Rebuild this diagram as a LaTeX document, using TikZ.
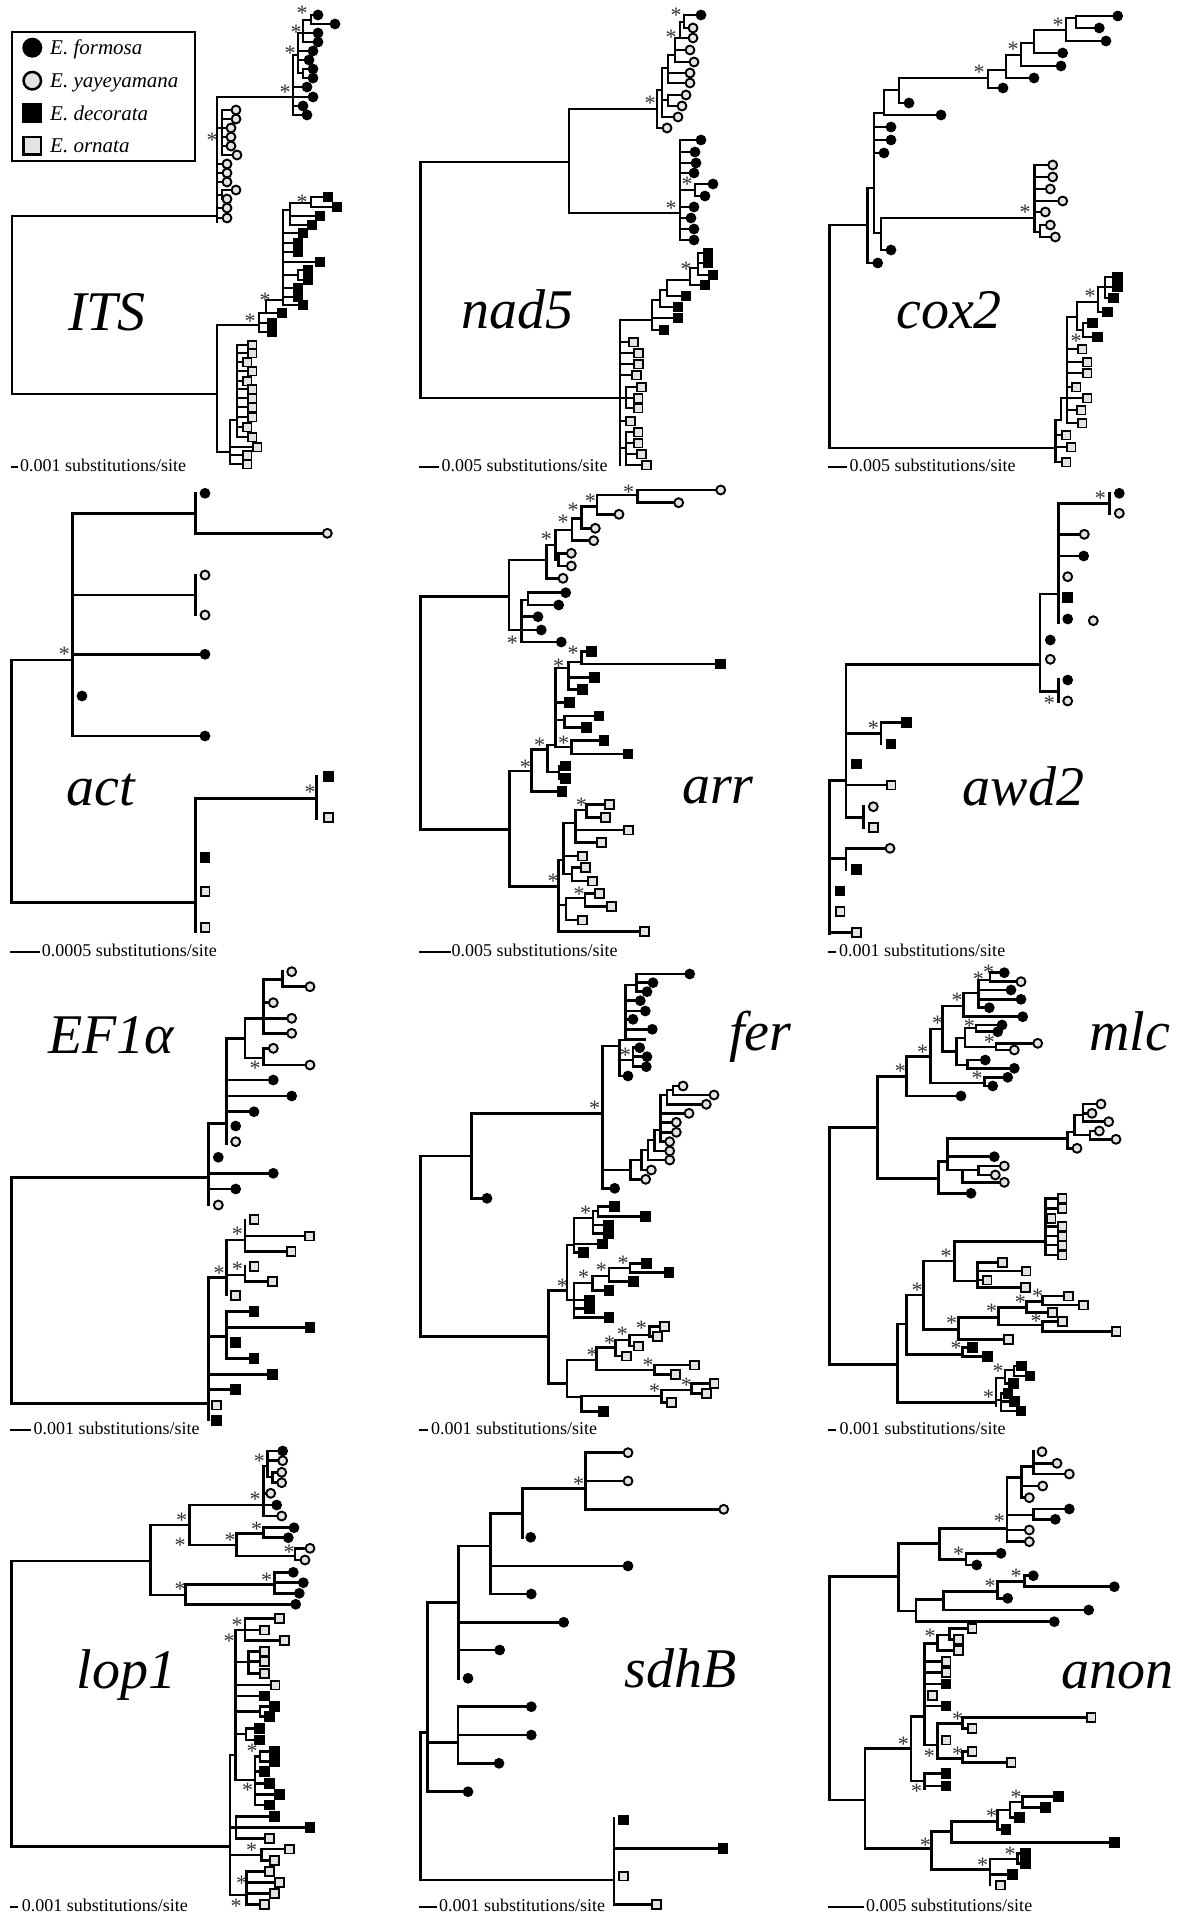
\documentclass[tikz,border=0pt]{standalone}
\usepackage{fontspec}
\setmainfont{Liberation Serif}
\newcounter{nn}
% branch pieces: vertical (x,y1,y2) and horizontal (x1,x2,y)
\newcommand\vbr[3]{\draw[br] (#1,#2) -- (#1,#3);}
\newcommand\hbr[3]{\draw[br] (#1,#3) -- (#2,#3);}
% terminal branch with its marker: style, parent x, tip x, y
\newcommand\tipm[4]{\draw[br] (#2,#4) -- (#3,#4);\stepcounter{nn}\node[#1] (t\arabic{nn}) at (#3,#4) {};}
% marker only
\newcommand\tmk[3]{\stepcounter{nn}\node[#1] (t\arabic{nn}) at (#2,#3) {};}
% support asterisk
\newcommand\astk[2]{\stepcounter{nn}\node[ast] (a\arabic{nn}) at (#1,#2) {*};}
% scale bar: x1, x2, y, text x, text
\newcommand\sbar[5]{\draw[br] (#1,{#3+2}) -- (#2,{#3+2});\stepcounter{nn}\node[scl] (s\arabic{nn}) at (#4,#3) {#5};}
\begin{document}
\begin{tikzpicture}[x=1pt,y=-1pt,
  br/.style={line width=2.6pt, line cap=rect},
  mkr/.style={inner sep=0pt, outer sep=0pt},
  sF/.style={mkr, circle, fill=black, minimum size=10.8pt},
  sY/.style={mkr, circle, draw=black, line width=1.9pt, fill=gray!22, minimum size=8.9pt},
  sD/.style={mkr, rectangle, fill=black, minimum size=10.8pt},
  sO/.style={mkr, rectangle, draw=black, line width=1.9pt, fill=gray!22, minimum size=8.9pt},
  ast/.style={inner sep=0pt, text=black!80, font=\fontsize{22}{22}\selectfont, yshift=-3pt},
  gene/.style={inner sep=0pt, anchor=base west, font=\fontsize{56}{60}\selectfont\itshape},
  scl/.style={inner sep=0pt, anchor=west, font=\fontsize{18}{20}\selectfont},
  leg/.style={inner sep=0pt, anchor=base west, font=\fontsize{21}{24}\selectfont\itshape},
]
\fill[white] (0,0) rectangle (1179,1916);
\useasboundingbox (0,0) rectangle (1179,1916);

% ================= ITS =================
\node[draw, line width=1.9pt, inner sep=0pt, minimum width=183.3pt, minimum height=129.3pt, anchor=north west] (legend) at (10.7,30.7) {};
\node[sF, minimum size=20pt] (lgF) at (32.3,47.7) {};
\node[sY, minimum size=17.5pt, line width=2.5pt] (lgY) at (32.3,80.7) {};
\node[sD, minimum size=20pt] (lgD) at (32.3,113.3) {};
\node[sO, minimum size=17.5pt, line width=2.5pt] (lgO) at (32.3,145.7) {};
\node[leg] (lgtF) at (50,55) {E. formosa};
\node[leg] (lgtY) at (50,88) {E. yayeyamana};
\node[leg] (lgtD) at (50,120.5) {E. decorata};
\node[leg] (lgtO) at (50,153) {E. ornata};

\vbr{12}{216}{394}
\hbr{12}{217}{216}
\hbr{12}{217}{394}
\vbr{217}{97}{222}
\hbr{217}{293}{97}
% E. yayeyamana
\hbr{217}{222}{128}
\vbr{222}{110}{155}
\tipm{sY}{222}{236}{110}
\tipm{sY}{222}{236}{119}
\tipm{sY}{222}{231}{128}
\tipm{sY}{222}{231}{137}
\tipm{sY}{222}{231}{146}
\tipm{sY}{222}{237}{155}
\tipm{sY}{217}{227}{164}
\tipm{sY}{217}{227}{173}
\tipm{sY}{217}{227}{182}
\hbr{217}{222}{195}
\vbr{222}{190}{199}
\tipm{sY}{222}{236}{190}
\tipm{sY}{222}{227}{199}
\tipm{sY}{217}{227}{208}
\tipm{sY}{217}{227}{218}
\astk{212}{137}
% E. formosa
\vbr{293}{55}{115}
\hbr{293}{298}{55}
\vbr{298}{33}{73}
\hbr{298}{303}{33}
\vbr{303}{20}{42}
\hbr{303}{311}{20}
\vbr{311}{15}{24}
\tipm{sF}{311}{318}{15}
\tipm{sF}{311}{335}{24}
\tipm{sF}{303}{318}{33}
\tipm{sF}{303}{318}{42}
\tipm{sF}{298}{313}{51}
\tipm{sF}{298}{309}{60}
\hbr{298}{303}{73}
\vbr{303}{69}{78}
\tipm{sF}{303}{313}{69}
\tipm{sF}{303}{313}{78}
\tipm{sF}{293}{307}{87}
\tipm{sF}{293}{313}{97}
\tipm{sF}{293}{303}{106}
\tipm{sF}{293}{307}{115}
\astk{302}{10}
\astk{296}{29}
\astk{290}{50}
\astk{285}{89}
% lower clade
\vbr{217}{325}{452}
\hbr{217}{259}{325}
\hbr{217}{230}{452}
\vbr{230}{420}{464}
\hbr{230}{237}{420}
\vbr{237}{345}{437}
\tipm{sO}{237}{252}{345}
\tipm{sO}{237}{252}{353}
\tipm{sO}{237}{247}{362}
\tipm{sO}{237}{252}{371}
\tipm{sO}{237}{247}{381}
\tipm{sO}{237}{252}{389}
\tipm{sO}{237}{252}{398}
\tipm{sO}{237}{252}{407}
\tipm{sO}{237}{252}{417}
\tipm{sO}{237}{247}{427}
\tipm{sO}{237}{252}{437}
\tipm{sO}{230}{257}{447}
\tipm{sO}{230}{247}{455}
\tipm{sO}{230}{247}{464}
% E. decorata
\vbr{259}{313}{332}
\tipm{sD}{259}{272}{323}
\tipm{sD}{259}{272}{332}
\hbr{259}{266}{313}
\vbr{266}{300}{313}
\tipm{sD}{266}{282}{313}
\hbr{266}{283}{300}
\vbr{283}{210}{305}
\tipm{sD}{283}{303}{305}
\tipm{sD}{283}{298}{297}
\tipm{sD}{283}{298}{288}
\hbr{283}{298}{275}
\vbr{298}{270}{280}
\tipm{sD}{298}{308}{270}
\tipm{sD}{298}{308}{280}
\tipm{sD}{283}{320}{262}
\tipm{sD}{283}{298}{252}
\tipm{sD}{283}{298}{243}
\tipm{sD}{283}{303}{233}
\hbr{283}{290}{210}
\vbr{290}{203}{225}
\hbr{290}{311}{203}
\vbr{311}{197}{207}
\tipm{sD}{311}{328}{197}
\tipm{sD}{311}{337}{207}
\tipm{sD}{290}{320}{216}
\tipm{sD}{290}{312}{225}
\astk{302}{199}
\astk{250}{318}
\astk{265}{297}
\node[gene] (gITS) at (68,330) {ITS};
\sbar{12}{17}{465}{20}{0.001 substitutions/site}

% ================= nad5 =================
\vbr{420.7}{162}{398}
\hbr{420.7}{569}{162}
\hbr{420.7}{620}{398}
\vbr{569}{109}{213}
\hbr{569}{657}{109}
\hbr{569}{680}{213}
\astk{650}{100}
\astk{671}{205}
% E. yayeyamana
\vbr{657}{90}{128}
\tipm{sY}{657}{667}{128}
\hbr{657}{662}{90}
\vbr{662}{68}{117}
\tipm{sY}{662}{678}{117}
\hbr{662}{668}{100}
\vbr{668}{95}{106}
\tipm{sY}{668}{682}{106}
\tipm{sY}{668}{686}{95}
\hbr{662}{668}{68}
\vbr{668}{55}{83}
\tipm{sY}{668}{690}{83}
\tipm{sY}{668}{690}{73}
\hbr{668}{675}{55}
\vbr{675}{38}{62}
\tipm{sY}{675}{694}{62}
\tipm{sY}{675}{690}{50}
\hbr{675}{680}{38}
\vbr{680}{22}{38}
\tipm{sY}{680}{693}{38}
\hbr{680}{684}{22}
\vbr{684}{15}{28}
\tipm{sF}{684}{701}{15}
\tipm{sY}{684}{693}{28}
\astk{676}{12}
\astk{671}{34}
% E. formosa
\vbr{680}{140}{240}
\tipm{sF}{680}{701}{140}
\tipm{sF}{680}{695}{152}
\tipm{sF}{680}{696}{163}
\tipm{sF}{680}{694}{173}
\hbr{680}{695}{190}
\vbr{695}{184}{196}
\tipm{sF}{695}{713}{184}
\tipm{sF}{695}{705}{196}
\astk{687}{181}
\tipm{sF}{680}{694}{207}
\tipm{sF}{680}{691}{218}
\tipm{sF}{680}{694}{229}
\tipm{sF}{680}{694}{240}
% lower clade
\vbr{620}{320}{465}
\hbr{620}{652}{320}
\vbr{652}{300}{330}
\tipm{sD}{652}{664}{330}
\tipm{sD}{652}{678}{318}
\hbr{652}{660}{300}
\vbr{660}{290}{307}
\tipm{sD}{660}{678}{307}
\hbr{660}{667}{290}
\vbr{667}{280}{296}
\tipm{sD}{667}{686}{296}
\hbr{667}{690}{280}
\vbr{690}{268}{285}
\tipm{sD}{690}{705}{285}
\hbr{690}{698}{268}
\vbr{698}{253}{275}
\tipm{sD}{698}{708}{253}
\tipm{sD}{698}{708}{263}
\tipm{sD}{698}{713}{275}
\astk{686}{266}
\tipm{sO}{620}{633.7}{342}
\tipm{sO}{620}{638.7}{353}
\tipm{sO}{620}{638.7}{364}
\tipm{sO}{620}{636.3}{375}
\hbr{620}{626}{398}
\vbr{626}{387}{408}
\tipm{sO}{626}{641.3}{387}
\tipm{sO}{626}{638}{398}
\tipm{sO}{626}{638}{408}
\tipm{sO}{620}{630.3}{421}
\hbr{620}{626}{448}
\vbr{626}{432}{465}
\tipm{sO}{626}{638}{432}
\tipm{sO}{626}{638}{443}
\tipm{sO}{626}{641.3}{454}
\tipm{sO}{626}{646.3}{465}
\node[gene] (gnad) at (461,328) {nad5};
\sbar{420.7}{438}{465}{441.3}{0.005 substitutions/site}

% ================= cox2 =================
\vbr{829.3}{225}{448}
\hbr{829.3}{867.7}{225}
\hbr{829.3}{1055.3}{448}
\vbr{867.7}{188}{263}
\tipm{sF}{867.7}{877.7}{263}
\hbr{867.7}{874}{188}
\vbr{874}{113}{233}
\hbr{874}{884}{113}
\tipm{sF}{874}{891}{127}
\tipm{sF}{874}{891}{140}
\tipm{sF}{874}{884}{153}
\hbr{874}{881}{233}
\vbr{881}{218}{250}
\tipm{sF}{881}{891}{250}
\hbr{881}{1034.7}{218}
\vbr{884}{90}{115}
\tipm{sF}{884}{941}{115}
\hbr{884}{899}{90}
\vbr{899}{78}{103}
\tipm{sF}{899}{909}{103}
\hbr{899}{988}{78}
\vbr{988}{70}{88}
\tipm{sF}{988}{1003}{88}
\hbr{988}{1006}{70}
\vbr{1006}{55}{78}
\tipm{sF}{1006}{1034}{78}
\hbr{1006}{1021}{55}
\vbr{1021}{43}{66}
\tipm{sF}{1021}{1061}{66}
\hbr{1021}{1034}{43}
\vbr{1034}{30}{53}
\tipm{sF}{1034}{1062.7}{53}
\hbr{1034}{1066}{30}
\vbr{1066}{18}{41}
\tipm{sF}{1066}{1106}{41}
\hbr{1066}{1076}{18}
\vbr{1076}{16}{28}
\tipm{sF}{1076}{1117.7}{16}
\tipm{sF}{1076}{1099.3}{28}
\astk{979}{69}
\astk{1013}{46}
\astk{1058}{22}
% E. yayeyamana
\vbr{1034.7}{165}{232}
\tipm{sY}{1034.7}{1052.7}{165}
\tipm{sY}{1034.7}{1052.7}{177}
\tipm{sY}{1034.7}{1050.3}{189}
\tipm{sY}{1034.7}{1062.7}{201}
\tipm{sY}{1034.7}{1045.3}{212}
\hbr{1034.7}{1040}{232}
\vbr{1040}{225}{237}
\tipm{sY}{1040}{1050.3}{225}
\tipm{sY}{1040}{1055.3}{237}
\astk{1025}{209}
% lower clade
\vbr{1055.3}{420}{462}
\tipm{sO}{1055.3}{1066}{435}
\tipm{sO}{1055.3}{1071}{447}
\tipm{sO}{1055.3}{1066}{462}
\hbr{1055.3}{1061}{420}
\vbr{1061}{398}{420}
\hbr{1061}{1067}{398}
\vbr{1067}{317}{423}
\tipm{sO}{1067}{1082}{349}
\tipm{sO}{1067}{1087}{362}
\tipm{sO}{1067}{1087}{373}
\tipm{sO}{1067}{1076}{387}
\tipm{sO}{1067}{1087}{398}
\tipm{sO}{1067}{1081}{410}
\tipm{sO}{1067}{1082}{423}
\hbr{1067}{1077}{317}
\vbr{1077}{302}{330}
\hbr{1077}{1083}{330}
\vbr{1083}{323}{337}
\tipm{sD}{1083}{1092.7}{323}
\tipm{sD}{1083}{1097.7}{337}
\hbr{1077}{1098}{302}
\vbr{1098}{287}{312}
\tipm{sD}{1098}{1107.7}{312}
\hbr{1098}{1105}{287}
\vbr{1105}{277}{298}
\tipm{sD}{1105}{1117.7}{277}
\tipm{sD}{1105}{1117.7}{287}
\tipm{sD}{1105}{1113.7}{298}
\astk{1090}{293}
\astk{1076}{338}
\node[gene] (gcox) at (896,328) {cox2};
\sbar{829.3}{846}{465}{849.3}{0.005 substitutions/site}

% ================= act =================
\vbr{11.7}{660}{902.3}
\hbr{11.7}{72.7}{660}
\hbr{11.7}{195.7}{902.3}
\vbr{72.7}{513.3}{736}
\astk{64.3}{651.7}
\hbr{72.7}{195.7}{513.3}
\vbr{195.7}{493.3}{533.3}
\tmk{sF}{205}{493.3}
\tipm{sY}{195.7}{327.3}{533.3}
\hbr{72.7}{195.7}{595}
\vbr{195.7}{575}{615}
\tmk{sY}{205}{575}
\tmk{sY}{205}{615}
\tipm{sF}{72.7}{205}{654.3}
\tmk{sF}{82}{696}
\tipm{sF}{72.7}{205}{736}
\vbr{195.7}{798.3}{931.7}
\hbr{195.7}{316.7}{798.3}
\vbr{316.7}{776.7}{818.3}
\tmk{sD}{328.3}{776.7}
\tmk{sO}{328.3}{817.7}
\astk{310}{789}
\tmk{sD}{205}{857.7}
\tmk{sO}{205}{891.7}
\tmk{sO}{205}{927.7}
\node[gene] (gact) at (66.7,805) {act};
\sbar{11.7}{38.3}{950}{41.7}{0.0005 substitutions/site}

% ================= arr =================
\vbr{420.7}{596.7}{829.3}
\hbr{420.7}{509}{596.7}
\hbr{420.7}{509.7}{829.3}
\vbr{509}{560}{630}
% E. yayeyamana
\hbr{509}{546.3}{560}
\vbr{546.3}{545}{579}
\tipm{sY}{546.3}{563}{578.3}
\hbr{546.3}{555.3}{545}
\vbr{555.3}{530}{560}
\hbr{555.3}{558.7}{560}
\vbr{558.7}{553}{566}
\tipm{sY}{558.7}{571.3}{553.3}
\tipm{sY}{558.7}{571.3}{566}
\hbr{555.3}{572}{530}
\vbr{572}{518.3}{540.7}
\tipm{sY}{572}{593.7}{540.7}
\hbr{572}{581.3}{518.3}
\vbr{581.3}{506.7}{528.3}
\tipm{sY}{581.3}{595.3}{528.3}
\hbr{581.3}{597}{506.7}
\vbr{597}{495}{514.3}
\tipm{sY}{597}{619}{514.3}
\hbr{597}{637.3}{495}
\vbr{637.3}{490}{502.7}
\tipm{sY}{637.3}{720.7}{490}
\tipm{sY}{637.3}{678.7}{502.7}
\astk{546.3}{536}
\astk{563}{519}
\astk{573}{507}
\astk{590.3}{498}
\astk{628.7}{489}
% E. formosa
\hbr{509}{521.3}{630}
\vbr{521.3}{600}{642}
\hbr{521.3}{528}{600}
\vbr{528}{592.7}{605}
\tipm{sF}{528}{565.7}{592.7}
\tipm{sF}{528}{558.7}{605}
\tipm{sF}{521.3}{538}{616.7}
\tipm{sF}{521.3}{541.3}{630}
\tipm{sF}{521.3}{561.3}{642}
\astk{512.3}{640}
% E. decorata
\vbr{509.7}{771}{886.7}
\hbr{509.7}{531.3}{771}
\astk{525.3}{764.3}
\vbr{531.3}{749.3}{791.7}
\tipm{sD}{531.3}{562}{791.7}
\hbr{531.3}{547.3}{749.3}
\astk{539.7}{742.7}
\vbr{547.3}{745}{772}
\hbr{547.3}{559}{772}
\vbr{559}{766}{778.3}
\tipm{sD}{559}{565.7}{766}
\tipm{sD}{559}{565.7}{778.3}
\hbr{547.3}{555.7}{745}
\vbr{555.7}{668}{747}
\hbr{555.7}{568.7}{668}
\astk{558.7}{663}
\vbr{568.7}{662}{689.3}
\hbr{568.7}{581.3}{662}
\astk{573}{650}
\vbr{581.3}{651.7}{664}
\tipm{sD}{581.3}{591.3}{651.7}
\tipm{sD}{581.3}{720.7}{664}
\tipm{sD}{568.7}{594.7}{677.3}
\tipm{sD}{568.7}{582.3}{689.3}
\tipm{sD}{555.7}{569.7}{702.7}
\hbr{555.7}{564.3}{720}
\vbr{564.3}{716}{727.7}
\tipm{sD}{564.3}{599}{716}
\tipm{sD}{564.3}{586.3}{727.7}
\hbr{555.7}{571.3}{747}
\astk{563.7}{740.5}
\vbr{571.3}{740.7}{754}
\tipm{sD}{571.3}{604}{740.7}
\tipm{sD}{571.3}{628}{754}
% E. ornata
\hbr{509.7}{558.7}{886.7}
\astk{553}{878.3}
\vbr{558.7}{860}{931.7}
\hbr{558.7}{563.7}{860}
\vbr{563.7}{823}{874}
\hbr{563.7}{575.7}{823}
\vbr{575.7}{810}{842.3}
\hbr{575.7}{586.3}{810}
\vbr{586.3}{804.3}{817.7}
\tipm{sO}{586.3}{609.7}{804.3}
\tipm{sO}{586.3}{605.7}{817.7}
\tipm{sO}{575.7}{628.7}{830}
\tipm{sO}{575.7}{601.3}{842.3}
\astk{581.3}{802}
\tipm{sO}{563.7}{582.3}{856}
\hbr{563.7}{572}{874}
\vbr{572}{867.7}{881}
\tipm{sO}{572}{585.3}{867.7}
\tipm{sO}{572}{592.3}{881}
\hbr{558.7}{566}{905}
\vbr{566}{898}{920}
\hbr{566}{585}{898}
\vbr{585}{893.3}{906.7}
\tipm{sO}{585}{599.7}{893.3}
\tipm{sO}{585}{611.3}{906.7}
\astk{579}{891.5}
\tipm{sO}{566}{582.3}{920}
\tipm{sO}{558.7}{644.7}{931.7}
\node[gene] (garr) at (682,803) {arr};
\sbar{420.7}{449.7}{950}{451.3}{0.005 substitutions/site}

% ================= awd2 =================
\vbr{829.3}{780.7}{933.3}
\hbr{829.3}{846}{780.7}
\vbr{846}{664.3}{817.7}
\hbr{846}{1040}{664.3}
\vbr{1040}{594}{691.7}
\hbr{1040}{1058.7}{594}
\vbr{1058.7}{503.3}{623}
\hbr{1058.7}{1109.3}{503.3}
\vbr{1109.3}{493.3}{513.3}
\tmk{sF}{1119.3}{493.3}
\tmk{sY}{1119.3}{513.3}
\astk{1100.3}{495.7}
\tipm{sY}{1058.7}{1084.3}{534.3}
\tipm{sF}{1058.7}{1083.7}{556}
\tmk{sY}{1067.7}{576.7}
\tmk{sD}{1067.7}{597.7}
\tmk{sF}{1067.7}{619}
\tmk{sY}{1093.3}{620.7}
\tmk{sF}{1050.3}{640}
\tmk{sY}{1050.3}{659.3}
\hbr{1040}{1058.7}{691.7}
\vbr{1058.7}{679.3}{701.7}
\tmk{sF}{1067.7}{680}
\tmk{sY}{1067.7}{701}
\astk{1049.3}{700}
\hbr{846}{881}{733.3}
\vbr{881}{723.3}{744}
\tipm{sD}{881}{906.7}{722.7}
\tmk{sD}{891}{744}
\astk{873.3}{725}
\tmk{sD}{856.7}{764}
\tipm{sO}{846}{891}{785}
\hbr{846}{863.3}{817.7}
\vbr{863.3}{806.7}{827.7}
\tmk{sY}{873.3}{806.7}
\tmk{sO}{873.3}{827.7}
\hbr{829.3}{846}{858.3}
\vbr{846}{848.3}{869.3}
\tipm{sY}{846}{890}{848.3}
\tmk{sD}{856.7}{869.3}
\tmk{sD}{840}{891}
\tmk{sO}{840}{911.7}
\tipm{sO}{829.3}{856.7}{932.7}
\node[gene] (gawd) at (962.7,805) {awd2};
\sbar{829.3}{834.3}{950}{839}{0.001 substitutions/site}

% ================= EF1alpha =================
\vbr{11.7}{1177.7}{1403.3}
\hbr{11.7}{208.3}{1177.7}
\hbr{11.7}{208.3}{1403.3}
\vbr{208.3}{1123.3}{1205}
\hbr{208.3}{226.7}{1123.3}
\vbr{226.7}{1038.3}{1143.3}
\hbr{226.7}{245}{1038.3}
\vbr{245}{1018.3}{1058}
\hbr{245}{263.3}{1018.3}
\vbr{263.3}{979.3}{1033.3}
\hbr{263.3}{282.7}{979.3}
\vbr{282.7}{971.7}{986.7}
\tmk{sY}{291.7}{971.7}
\tipm{sY}{282.7}{310}{986.7}
\tipm{sY}{263.3}{273.3}{1002.7}
\tipm{sY}{263.3}{291.7}{1018.3}
\tipm{sY}{263.3}{291.7}{1033.3}
\hbr{245}{263.3}{1058}
\vbr{263.3}{1048.3}{1065}
\tipm{sY}{263.3}{273.3}{1048.3}
\tipm{sY}{263.3}{310}{1065}
\astk{255}{1065}
\tipm{sF}{226.7}{273.3}{1080}
\tipm{sF}{226.7}{291.7}{1096}
\tipm{sF}{226.7}{254}{1111.7}
\tmk{sF}{235.7}{1126}
\tmk{sY}{235.7}{1141.7}
\tmk{sF}{218.3}{1157.3}
\tipm{sF}{208.3}{273.3}{1173.3}
\tipm{sF}{208.3}{235.7}{1189}
\tmk{sY}{218.3}{1205}
\vbr{208.3}{1277.7}{1420}
\hbr{208.3}{226.7}{1277.7}
\vbr{226.7}{1240}{1295}
\astk{219}{1270}
\hbr{226.7}{245}{1240}
\vbr{245}{1220}{1251.7}
\tmk{sO}{254}{1219.3}
\tipm{sO}{245}{309.3}{1236}
\tipm{sO}{245}{291}{1251.7}
\astk{237.3}{1231.7}
\hbr{226.7}{245}{1275}
\vbr{245}{1266.7}{1281.7}
\tmk{sO}{254}{1266.7}
\tipm{sO}{245}{272.7}{1281.7}
\astk{237.3}{1266.7}
\tmk{sO}{235.7}{1295.7}
\hbr{208.3}{226.7}{1336.7}
\vbr{226.7}{1311.7}{1358.3}
\tipm{sD}{226.7}{254}{1311.7}
\tipm{sD}{226.7}{310}{1327.7}
\tmk{sD}{235.7}{1342.7}
\tipm{sD}{226.7}{254}{1358.3}
\tipm{sD}{208.3}{272.7}{1374.3}
\tipm{sD}{208.3}{235.7}{1389.3}
\tmk{sO}{216.7}{1405}
\tmk{sD}{216.7}{1420.7}
\node[gene] (gEF) at (48.3,1053) {EF1α};
\sbar{11.7}{30}{1428}{33.3}{0.001 substitutions/site}

% ================= fer =================
\vbr{420.7}{1156}{1336.7}
\hbr{420.7}{471.3}{1156}
\hbr{420.7}{548.7}{1336.7}
\vbr{471.3}{1113.3}{1198.3}
\tipm{sF}{471.3}{487}{1198.3}
\hbr{471.3}{602.3}{1113.3}
\astk{594.7}{1105}
\vbr{602.3}{1046}{1188.3}
\tipm{sF}{602.3}{614.7}{1188.3}
\hbr{602.3}{619.7}{1046}
% E. formosa
\vbr{619.7}{1040}{1076}
\tipm{sF}{619.7}{628}{1076}
\hbr{619.7}{625.3}{1040}
\hbr{619.7}{633}{1060}
\vbr{633}{1047.7}{1066.7}
\tipm{sF}{633}{639.7}{1047.7}
\tipm{sF}{633}{647}{1056.7}
\tipm{sF}{633}{646.3}{1066.7}
\astk{625.3}{1052}
\vbr{625.3}{985}{1039.3}
\hbr{625.3}{636.3}{985}
\vbr{636.3}{974}{991.7}
\tipm{sF}{636.3}{689.7}{974}
\tipm{sF}{636.3}{653}{982.7}
\tipm{sF}{636.3}{647}{991.7}
\tipm{sF}{625.3}{640.3}{1000.7}
\tipm{sF}{625.3}{645.3}{1011}
\tipm{sF}{625.3}{633}{1019.3}
\tipm{sF}{625.3}{652.3}{1029.3}
\hbr{625.3}{645}{1039.3}
% E. yayeyamana
\hbr{602.3}{630.3}{1170}
\vbr{630.3}{1160}{1180}
\tipm{sY}{630.3}{645.7}{1179.3}
\hbr{630.3}{641.3}{1160}
\vbr{641.3}{1150}{1170}
\tipm{sY}{641.3}{651.3}{1170}
\hbr{641.3}{648}{1150}
\vbr{648}{1140}{1160}
\tipm{sY}{648}{669.7}{1160}
\hbr{648}{654.7}{1140}
\vbr{654.7}{1130}{1151}
\tipm{sY}{654.7}{669.7}{1151}
\hbr{654.7}{660.7}{1130}
\vbr{660.7}{1095}{1141.7}
\tipm{sY}{660.7}{669.7}{1141.7}
\tipm{sY}{660.7}{676.3}{1132.3}
\tipm{sY}{660.7}{676.3}{1122.3}
\tipm{sY}{660.7}{689}{1113.3}
\hbr{660.7}{667}{1095}
\vbr{667}{1090}{1104.3}
\tipm{sY}{667}{706.3}{1104.3}
\hbr{667}{673}{1090}
\vbr{673}{1086}{1095}
\tipm{sY}{673}{683}{1086}
\tipm{sY}{673}{714}{1095}
% E. decorata
\vbr{548.7}{1290.7}{1383.3}
\hbr{548.7}{567}{1290.7}
\astk{562.3}{1283}
\vbr{567}{1245}{1300}
\hbr{567}{574}{1245}
\vbr{574}{1218}{1252.7}
\hbr{574}{593}{1218}
\astk{585.7}{1210.5}
\vbr{593}{1211}{1233.3}
\hbr{593}{598}{1211}
\vbr{598}{1206.7}{1216.7}
\tipm{sD}{598}{614.7}{1206.7}
\tipm{sD}{598}{645.3}{1216.7}
\tipm{sD}{593}{608.7}{1225}
\tipm{sD}{593}{608.7}{1233.3}
\tipm{sD}{574}{602.3}{1244}
\tipm{sD}{574}{583.7}{1252.7}
\hbr{567}{574}{1300}
\vbr{574}{1283}{1317.7}
\hbr{574}{592.3}{1283}
\astk{583.7}{1274}
\vbr{592.3}{1276}{1290.7}
\hbr{592.3}{609}{1276}
\astk{601.3}{1267}
\vbr{609}{1268}{1281.7}
\hbr{609}{630}{1268}
\astk{623}{1260.5}
\vbr{630}{1263.3}{1272.7}
\tipm{sD}{630}{646.3}{1263.3}
\tipm{sD}{630}{669}{1272.7}
\tipm{sD}{609}{633.7}{1281.7}
\tipm{sD}{592.3}{609}{1290.7}
\tipm{sD}{574}{589.7}{1300}
\tipm{sD}{574}{589.7}{1308.3}
\tipm{sD}{574}{609}{1317.7}
% E. ornata
\hbr{548.7}{567}{1383.3}
\vbr{567}{1360}{1397}
\hbr{567}{596.3}{1360}
\astk{592}{1352}
\vbr{596.3}{1347.7}{1370}
\hbr{596.3}{615.7}{1347.7}
\astk{609.7}{1340}
\vbr{615.7}{1340}{1356}
\hbr{615.7}{629.7}{1340}
\astk{622.3}{1331}
\vbr{629.7}{1335}{1346}
\hbr{629.7}{649.7}{1335}
\astk{641.3}{1325.5}
\vbr{649.7}{1326.7}{1336.7}
\tipm{sO}{649.7}{664.7}{1326.7}
\tipm{sO}{649.7}{657.3}{1336.7}
\tipm{sO}{629.7}{638.7}{1346}
\tipm{sO}{615.7}{626.3}{1356}
\hbr{596.3}{654.7}{1370}
\astk{648}{1362}
\vbr{654.7}{1365}{1374.3}
\tipm{sO}{654.7}{694.7}{1365}
\tipm{sO}{654.7}{675.7}{1374.3}
\hbr{567}{581.3}{1397}
\vbr{581.3}{1396}{1411.7}
\hbr{581.3}{661.3}{1396}
\astk{654.7}{1388.5}
\vbr{661.3}{1390}{1402.7}
\hbr{661.3}{691.3}{1390}
\astk{686.3}{1382}
\vbr{691.3}{1383.3}{1393.3}
\tipm{sO}{691.3}{714}{1383.3}
\tipm{sO}{691.3}{706.3}{1393.3}
\tipm{sO}{661.3}{671.3}{1402.7}
\tipm{sD}{581.3}{603.7}{1411.7}
\node[gene] (gfer) at (729,1050) {fer};
\sbar{420.7}{426.3}{1428}{431}{0.001 substitutions/site}

% ================= mlc =================
\vbr{829.3}{1127.3}{1364.3}
\hbr{829.3}{877.7}{1127.3}
\hbr{829.3}{897.7}{1364.3}
\vbr{877.7}{1076.7}{1178.3}
\hbr{877.7}{906.7}{1076.7}
\astk{900.3}{1068.3}
\vbr{906.7}{1056.7}{1096}
\tipm{sF}{906.7}{961}{1096}
\hbr{906.7}{930.3}{1056.7}
\astk{922.7}{1049}
\vbr{930.3}{1029}{1083}
\hbr{930.3}{942.7}{1029}
\astk{937.7}{1020.7}
\vbr{942.7}{1006}{1051.7}
\hbr{942.7}{963.7}{1006}
\astk{957}{997.3}
\vbr{963.7}{993}{1016.7}
\hbr{963.7}{978.3}{993}
\astk{978.3}{976.7}
\vbr{978.3}{980}{1007.7}
\hbr{978.3}{990}{980}
\astk{988.7}{969}
\vbr{990}{972.7}{981.7}
\tipm{sF}{990}{1004.3}{972.7}
\tipm{sY}{990}{1021}{981.7}
\tipm{sF}{978.3}{1011}{990}
\tipm{sF}{978.3}{1021}{999.3}
\tipm{sF}{978.3}{989.3}{1007.7}
\tipm{sF}{963.7}{1022.7}{1016.7}
\hbr{942.7}{956.7}{1051.7}
\vbr{956.7}{1038}{1065}
\hbr{956.7}{965}{1038}
\astk{969.3}{1023}
\vbr{965}{1028}{1047}
\hbr{965}{976}{1028}
\vbr{976}{1025}{1031.7}
\tipm{sF}{976}{1002}{1025}
\tipm{sF}{976}{997.7}{1031.7}
\hbr{965}{996}{1047}
\astk{989.3}{1039}
\vbr{996}{1043.3}{1050}
\tipm{sY}{996}{1037.7}{1043.3}
\tipm{sY}{996}{1014.3}{1050}
\hbr{956.7}{967.7}{1065}
\vbr{967.7}{1060}{1068.3}
\tipm{sF}{967.7}{985.3}{1060}
\tipm{sF}{967.7}{1014.3}{1068.3}
\hbr{930.3}{984.3}{1083}
\astk{977}{1075.5}
\vbr{984.3}{1077.3}{1086}
\tipm{sF}{984.3}{1007.7}{1077.3}
\tipm{sF}{984.3}{992.7}{1086}
\hbr{877.7}{938.7}{1178.3}
\vbr{938.7}{1161.7}{1192.7}
\tipm{sF}{938.7}{971}{1193.3}
\hbr{938.7}{947.7}{1161.7}
\vbr{947.7}{1138.3}{1170}
\hbr{947.7}{1067.7}{1138.3}
\tipm{sF}{947.7}{994.3}{1156.7}
\hbr{947.7}{962.7}{1170}
\vbr{962.7}{1170}{1182.3}
\hbr{962.7}{978.3}{1170}
\vbr{978.3}{1166}{1175}
\tipm{sY}{978.3}{1004.3}{1166}
\tipm{sY}{978.3}{995.3}{1175}
\tipm{sY}{962.7}{1004.3}{1182.3}
\vbr{1067.7}{1132}{1148.3}
\tipm{sY}{1067.7}{1077}{1148.3}
\hbr{1067.7}{1074.3}{1132}
\vbr{1074.3}{1115}{1135}
\hbr{1074.3}{1083}{1115}
\vbr{1083}{1104}{1121.7}
\tipm{sY}{1083}{1101}{1104}
\tipm{sY}{1083}{1092}{1113.3}
\tipm{sY}{1083}{1108.7}{1121.7}
\hbr{1074.3}{1090}{1135}
\vbr{1090}{1131}{1139.3}
\tipm{sY}{1090}{1099.3}{1131}
\tipm{sY}{1090}{1116}{1139.3}
% lower mlc
\vbr{897.7}{1324}{1402.7}
\hbr{897.7}{906.7}{1324}
\vbr{906.7}{1295}{1354.3}
\astk{917}{1287}
\hbr{906.7}{923.7}{1295}
\astk{946}{1253}
\vbr{923.7}{1261}{1329.3}
\hbr{923.7}{954.3}{1261}
\vbr{954.3}{1241.7}{1281}
\hbr{954.3}{1045.3}{1241.7}
\vbr{1045.3}{1198.3}{1255}
\tipm{sO}{1045.3}{1062}{1198.3}
\tipm{sO}{1045.3}{1062}{1208.3}
\tipm{sO}{1045.3}{1051}{1218.3}
\tipm{sO}{1045.3}{1062}{1226.7}
\tipm{sO}{1045.3}{1062}{1236}
\tipm{sO}{1045.3}{1062}{1245}
\tipm{sO}{1045.3}{1062}{1255}
\hbr{954.3}{977.7}{1281}
\vbr{977.7}{1262.7}{1287.7}
\tipm{sO}{977.7}{1002.7}{1262.7}
\tipm{sO}{977.7}{1026}{1271}
\tipm{sO}{977.7}{987}{1280}
\tipm{sO}{977.7}{1025.3}{1287.7}
\hbr{923.7}{958.7}{1329.3}
\astk{951.7}{1320}
\vbr{958.7}{1317.7}{1340}
\hbr{958.7}{998.3}{1317.7}
\astk{991.7}{1308.3}
\vbr{998.3}{1307.7}{1325}
\hbr{998.3}{1026.7}{1307.7}
\astk{1020.3}{1299}
\vbr{1026.7}{1301.7}{1312.7}
\hbr{1026.7}{1042.7}{1301.7}
\astk{1037.7}{1293.5}
\vbr{1042.7}{1296}{1305}
\tipm{sO}{1042.7}{1068.7}{1296}
\tipm{sO}{1042.7}{1083.7}{1305}
\tipm{sO}{1026.7}{1052.7}{1312.7}
\hbr{998.3}{1042.7}{1325}
\astk{1036}{1318}
\vbr{1042.7}{1321.7}{1331.7}
\tipm{sO}{1042.7}{1062.7}{1321.7}
\tipm{sO}{1042.7}{1116}{1331.7}
\tipm{sO}{958.7}{1008.3}{1339.3}
\hbr{906.7}{962.7}{1354.3}
\astk{956}{1345.5}
\vbr{962.7}{1347.3}{1356.7}
\tipm{sD}{962.7}{972.7}{1347.3}
\tipm{sD}{962.7}{987.7}{1356.7}
\hbr{897.7}{996}{1402.7}
\vbr{996}{1378}{1406}
\hbr{996}{1005}{1378}
\astk{998}{1368}
\vbr{1005}{1370}{1383.3}
\hbr{1005}{1014}{1370}
\vbr{1014}{1366}{1376}
\tipm{sD}{1014}{1021.7}{1366}
\tipm{sD}{1014}{1030}{1376}
\tipm{sD}{1005}{1013.3}{1383.3}
\hbr{996}{1001}{1400}
\astk{988.7}{1394}
\vbr{1001}{1393.3}{1411}
\tipm{sD}{1001}{1008}{1393.3}
\tipm{sD}{1001}{1014.3}{1401.7}
\tipm{sD}{1001}{1021}{1411}
\node[gene] (gmlc) at (1089,1050) {mlc};
\sbar{829.3}{834.3}{1428}{839.3}{0.001 substitutions/site}

% ================= lop1 =================
\vbr{11.7}{1561}{1846.7}
\hbr{11.7}{150.7}{1561}
\hbr{11.7}{230}{1846.7}
\vbr{150.7}{1525}{1595}
\hbr{150.7}{189.3}{1525}
\astk{181.7}{1517.5}
\vbr{189.3}{1505}{1545}
\astk{180}{1542.7}
\hbr{189.3}{263.3}{1505}
\astk{255}{1496}
\vbr{263.3}{1466}{1516}
\hbr{263.3}{267.7}{1466}
\astk{259.3}{1458.5}
\vbr{267.7}{1451}{1477}
\tipm{sF}{267.7}{282.7}{1451}
\tipm{sY}{267.7}{282.7}{1460.7}
\hbr{267.7}{272.7}{1477}
\vbr{272.7}{1472.3}{1482.7}
\tipm{sY}{272.7}{281.7}{1472.3}
\tipm{sY}{272.7}{281.7}{1482.7}
\tipm{sY}{263.3}{270.7}{1493.3}
\tipm{sF}{263.3}{276.7}{1505}
\tipm{sY}{263.3}{281.7}{1516}
\hbr{189.3}{236.7}{1545}
\astk{230}{1537}
\vbr{236.7}{1533.3}{1556}
\hbr{236.7}{263.3}{1533.3}
\astk{256.7}{1526}
\vbr{263.3}{1527.7}{1537.7}
\tipm{sF}{263.3}{294}{1527.7}
\tipm{sF}{263.3}{288.3}{1537.7}
\hbr{236.7}{295}{1556}
\astk{289}{1549}
\vbr{295}{1548.3}{1560}
\tipm{sY}{295}{310}{1548.3}
\tipm{sY}{295}{305}{1560}
\hbr{150.7}{185.7}{1595}
\astk{180}{1586.7}
\vbr{185.7}{1584.3}{1605}
\hbr{185.7}{274.3}{1584.3}
\astk{266.7}{1577.5}
\vbr{274.3}{1572.3}{1593.3}
\tipm{sF}{274.3}{293.3}{1572.3}
\tipm{sF}{274.3}{303.3}{1582.7}
\tipm{sF}{274.3}{299.3}{1593.3}
\tipm{sF}{185.7}{295.7}{1604.3}
% lower lop1
\vbr{230}{1755}{1895}
\hbr{230}{235.7}{1755}
\vbr{235.7}{1630}{1780}
\hbr{235.7}{245}{1630}
\vbr{245}{1618.3}{1640.7}
\tipm{sO}{245}{279.3}{1618.3}
\tipm{sO}{245}{264.3}{1630}
\tipm{sO}{245}{284.3}{1640.7}
\astk{237}{1622}
\astk{229}{1638}
\hbr{235.7}{248.3}{1662}
\vbr{248.3}{1651.7}{1673.3}
\tipm{sO}{248.3}{264.3}{1651.7}
\tipm{sO}{248.3}{264.3}{1661.7}
\tipm{sO}{248.3}{264.3}{1673.3}
\tipm{sO}{235.7}{275}{1685}
\tipm{sD}{235.7}{264.3}{1696}
\hbr{235.7}{260}{1711.7}
\vbr{260}{1706.7}{1716.7}
\tipm{sD}{260}{274.3}{1706.7}
\tipm{sD}{260}{269.3}{1716.7}
\hbr{235.7}{246}{1734}
\vbr{246}{1728.3}{1740}
\tipm{sD}{246}{259.3}{1728.3}
\tipm{sD}{246}{259.3}{1740}
\hbr{235.7}{255}{1780}
\vbr{255}{1756.7}{1805}
\hbr{255}{260}{1756.7}
\vbr{260}{1751.7}{1761.7}
\tipm{sD}{260}{274.3}{1751.7}
\tipm{sD}{260}{274.3}{1761.7}
\astk{252}{1748}
\tipm{sD}{255}{264.3}{1771.7}
\tipm{sD}{255}{269.3}{1783.3}
\tipm{sD}{255}{279.3}{1794.3}
\tipm{sD}{255}{269.3}{1805}
\astk{247.7}{1787.7}
\hbr{230}{236}{1827.7}
\vbr{236}{1816.7}{1838.3}
\tipm{sD}{236}{274.3}{1816.7}
\tipm{sD}{236}{310}{1827.7}
\tipm{sO}{236}{269.3}{1838.3}
\hbr{230}{261.7}{1855}
\astk{251.7}{1847}
\vbr{261.7}{1849}{1860.7}
\tipm{sO}{261.7}{289.3}{1849}
\tipm{sO}{261.7}{274.3}{1860.7}
\hbr{230}{246.7}{1895}
\astk{241.7}{1880}
\vbr{246.7}{1871.7}{1904.3}
\tipm{sO}{246.7}{269.3}{1871.7}
\tipm{sO}{246.7}{279.3}{1882.7}
\tipm{sO}{246.7}{274.3}{1893.3}
\tipm{sO}{246.7}{264.3}{1904.3}
\astk{236}{1903}
\node[gene] (glop) at (76.7,1688) {lop1};
\sbar{11.7}{16.7}{1905}{21.7}{0.001 substitutions/site}

% ================= sdhB =================
\vbr{420.7}{1732.7}{1880}
\hbr{420.7}{427.3}{1732.7}
\vbr{427.3}{1602.3}{1791.7}
\hbr{427.3}{458.7}{1602.3}
\vbr{458.7}{1546}{1678.3}
\hbr{458.7}{490.7}{1546}
\vbr{490.7}{1513.3}{1594}
\hbr{490.7}{522.3}{1513.3}
\vbr{522.3}{1488.3}{1537.3}
\hbr{522.3}{585.7}{1488.3}
\astk{578.7}{1481}
\vbr{585.7}{1452.7}{1509.3}
\tipm{sY}{585.7}{628}{1452.7}
\tipm{sY}{585.7}{628}{1481}
\tipm{sY}{585.7}{723.7}{1509.3}
\tmk{sF}{530.7}{1537.3}
\tipm{sF}{490.7}{628}{1566}
\tipm{sF}{490.7}{531.3}{1594}
\tipm{sF}{458.7}{563.7}{1622.3}
\tipm{sF}{458.7}{499.7}{1650}
\tmk{sF}{468}{1678.3}
\hbr{427.3}{458}{1742.7}
\vbr{458}{1706.7}{1763.3}
\tipm{sF}{458}{531.3}{1706.7}
\tipm{sF}{458}{531.3}{1735}
\tipm{sF}{458}{499}{1763.3}
\tipm{sF}{427.3}{468}{1791.7}
\hbr{420.7}{614}{1880}
\vbr{614}{1818.3}{1904.3}
\tmk{sD}{623.7}{1820}
\tipm{sD}{614}{723}{1848.3}
\tmk{sO}{623.7}{1876}
\tipm{sO}{614}{656.3}{1904.3}
\node[gene] (gsdh) at (624.7,1687) {sdhB};
\sbar{420.7}{435.7}{1905}{439}{0.001 substitutions/site}

% ================= anon =================
\vbr{829.3}{1576.7}{1800}
\hbr{829.3}{898.7}{1576.7}
\hbr{829.3}{865}{1800}
\vbr{898.7}{1543.3}{1611}
\hbr{898.7}{939.3}{1543.3}
\vbr{939.3}{1528.3}{1559.3}
\hbr{939.3}{1007}{1528.3}
\astk{999.3}{1518.5}
\vbr{1007}{1477.7}{1541.7}
\hbr{1007}{1021.7}{1477.7}
\vbr{1021.7}{1466.7}{1497.7}
\hbr{1021.7}{1033.7}{1466.7}
\vbr{1033.7}{1451.7}{1474}
\tmk{sY}{1042}{1451.7}
\tipm{sY}{1033.7}{1057}{1463.3}
\tipm{sY}{1033.7}{1069.3}{1474}
\tipm{sY}{1021.7}{1042.7}{1486}
\tipm{sY}{1021.7}{1029.3}{1497.7}
\hbr{1007}{1033.7}{1515}
\vbr{1033.7}{1509}{1519.3}
\tipm{sF}{1033.7}{1069.3}{1509}
\tipm{sF}{1033.7}{1055.3}{1519.3}
\tipm{sY}{1007}{1029.3}{1530}
\tipm{sY}{1007}{1029.3}{1541.7}
\hbr{939.3}{966}{1559.3}
\astk{958.7}{1551}
\vbr{966}{1553.3}{1565}
\tipm{sF}{966}{1001}{1553.3}
\tipm{sF}{966}{976.7}{1565}
\hbr{898.7}{916}{1611}
\vbr{916}{1599.3}{1621.7}
\hbr{916}{943.3}{1599.3}
\vbr{943.3}{1591.7}{1610}
\hbr{943.3}{997.7}{1591.7}
\astk{990}{1583}
\vbr{997.7}{1581.7}{1598.3}
\hbr{997.7}{1024.3}{1581.7}
\astk{1016}{1573}
\vbr{1024.3}{1575.7}{1586.7}
\tipm{sF}{1024.3}{1033.3}{1575.7}
\tipm{sF}{1024.3}{1114.3}{1586.7}
\tipm{sF}{997.7}{1007.7}{1598.3}
\tipm{sF}{943.3}{1088.7}{1610}
\tipm{sF}{916}{1054.3}{1621.7}
% lower anon
\vbr{865}{1748.3}{1848.3}
\hbr{865}{911}{1748.3}
\astk{903.3}{1741}
\vbr{911}{1716.7}{1781}
\hbr{911}{924.3}{1716.7}
\vbr{924.3}{1643.3}{1745}
\hbr{924.3}{937.7}{1643.3}
\astk{930}{1633.5}
\vbr{937.7}{1635}{1650.7}
\hbr{937.7}{949.3}{1635}
\vbr{949.3}{1628.3}{1639.3}
\tipm{sO}{949.3}{972}{1628.3}
\tipm{sO}{949.3}{958.7}{1639.3}
\tipm{sO}{937.7}{958.7}{1650.7}
\tipm{sO}{924.3}{946}{1661.7}
\tipm{sO}{924.3}{946}{1672.7}
\tipm{sD}{924.3}{946}{1684}
\tmk{sO}{932.7}{1695.7}
\tipm{sD}{924.3}{946}{1706}
\hbr{924.3}{937.7}{1745}
\astk{929.3}{1753}
\vbr{937.7}{1723.3}{1758.3}
\hbr{937.7}{962.7}{1723.3}
\astk{957.7}{1716}
\vbr{962.7}{1717.3}{1728.3}
\tipm{sO}{962.7}{1091}{1717.3}
\tipm{sO}{962.7}{972}{1728.3}
\tmk{sO}{946}{1740}
\hbr{937.7}{962.7}{1758.3}
\astk{957.7}{1751}
\vbr{962.7}{1751.7}{1762.7}
\tipm{sO}{962.7}{972}{1751.7}
\tipm{sO}{962.7}{1011}{1762.7}
\hbr{911}{924.3}{1781}
\astk{916.7}{1788}
\vbr{924.3}{1774.3}{1788.3}
\tipm{sD}{924.3}{946}{1773.3}
\tipm{sD}{924.3}{946}{1786}
\hbr{865}{931.3}{1848.3}
\astk{925.3}{1842.5}
\vbr{931.3}{1831.7}{1869.3}
\hbr{931.3}{951.7}{1831.7}
\vbr{951.7}{1821.7}{1842.3}
\hbr{951.7}{997.7}{1821.7}
\astk{991.7}{1813}
\vbr{997.7}{1810}{1829.3}
\hbr{997.7}{1010}{1810}
\astk{1016}{1794}
\vbr{1010}{1802}{1817.7}
\hbr{1010}{1022.7}{1802}
\vbr{1022.7}{1796.7}{1807.7}
\tipm{sD}{1022.7}{1058.7}{1796.7}
\tipm{sD}{1022.7}{1045.3}{1807.7}
\tipm{sD}{1010}{1019.3}{1817.7}
\tipm{sD}{997.7}{1006}{1829.3}
\tipm{sD}{951.7}{1114.3}{1842.3}
\hbr{931.3}{990}{1869.3}
\astk{982.7}{1862}
\vbr{990}{1859}{1885}
\hbr{990}{1017.7}{1859}
\astk{1010}{1851}
\vbr{1017.7}{1853.3}{1863.3}
\tipm{sD}{1017.7}{1025.3}{1853.3}
\tipm{sD}{1017.7}{1025.3}{1863.3}
\tipm{sD}{990}{1012.7}{1874.3}
\tmk{sO}{1000.3}{1885}
\node[gene] (gano) at (1061,1688) {anon};
\sbar{829.3}{862.7}{1905}{866}{0.005 substitutions/site}
\end{tikzpicture}
\end{document}
